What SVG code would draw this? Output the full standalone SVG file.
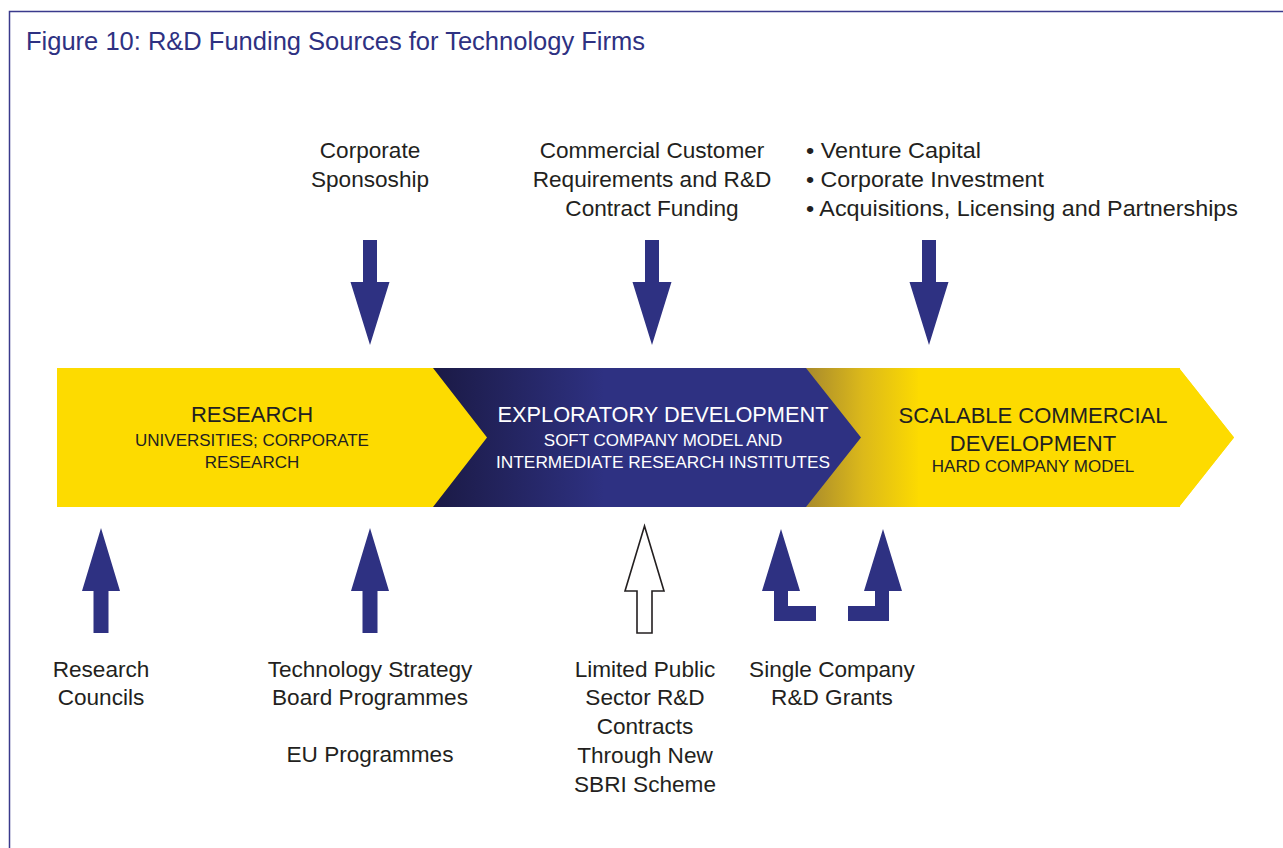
<svg xmlns="http://www.w3.org/2000/svg" width="1283" height="848" viewBox="0 0 1283 848">
<style>
.t{font-family:"Liberation Sans",Arial,sans-serif;font-size:22.6px;fill:#231f20;text-anchor:middle}
.tl{text-anchor:start}
.title{font-family:"Liberation Sans",Arial,sans-serif;font-size:25px;fill:#2e3182}
.bh{font-family:"Liberation Sans",Arial,sans-serif;font-size:22px;fill:#231f20;text-anchor:middle}
.bs{font-family:"Liberation Sans",Arial,sans-serif;font-size:17px;fill:#231f20;text-anchor:middle}
.w{fill:#ffffff}
.arr{fill:#2e3182}
.hollow{fill:#ffffff;stroke:#231f20;stroke-width:1.6}
</style>
<defs>
<linearGradient id="gBlue" x1="433" y1="0" x2="861" y2="0" gradientUnits="userSpaceOnUse">
<stop offset="0" stop-color="#1b1a45"/>
<stop offset="0.4" stop-color="#2e3182"/>
<stop offset="1" stop-color="#2e3182"/>
</linearGradient>
<linearGradient id="gGold" x1="806" y1="0" x2="920" y2="0" gradientUnits="userSpaceOnUse">
<stop offset="0" stop-color="#a88a2c"/>
<stop offset="0.5" stop-color="#dcb91a"/>
<stop offset="1" stop-color="#fddb00"/>
</linearGradient>
<path id="down" d="M-7,0 H7 V42 H19.5 L0,105 L-19.5,42 H-7 Z"/>
<path id="up" d="M0,0 L19,63 H7.5 V105 H-7.5 V63 H-19 Z"/>
</defs>
<rect width="1283" height="848" fill="#ffffff"/>
<path d="M9.5,848 V11.5 H1283" fill="none" stroke="#3a3a8c" stroke-width="1.5"/>
<text class="title" x="26" y="50" textLength="619" lengthAdjust="spacingAndGlyphs">Figure 10: R&amp;D Funding Sources for Technology Firms</text>

<g id="band">
<polygon points="57,368 1179,368 1234,437.5 1179,507 57,507" fill="#fddb00"/>
<polygon points="806,368 1179,368 1234,437.5 1179,507 806,507" fill="url(#gGold)"/>
<rect x="918" y="368" width="262" height="139" fill="#fddb00"/>
<polygon points="433,368 806,368 861,437.5 806,507 433,507 487,437.5" fill="url(#gBlue)"/>
</g>

<g id="node-research">
<text class="bh" x="252" y="422">RESEARCH</text>
<text class="bs" x="252" y="446">UNIVERSITIES; CORPORATE</text>
<text class="bs" x="252" y="468">RESEARCH</text>
</g>
<g id="node-exploratory">
<text class="bh w" x="663" y="422" textLength="331" lengthAdjust="spacingAndGlyphs">EXPLORATORY DEVELOPMENT</text>
<text class="bs w" x="663" y="446">SOFT COMPANY MODEL AND</text>
<text class="bs w" x="663" y="468" textLength="334" lengthAdjust="spacingAndGlyphs">INTERMEDIATE RESEARCH INSTITUTES</text>
</g>
<g id="node-scalable">
<text class="bh" x="1033" y="423">SCALABLE COMMERCIAL</text>
<text class="bh" x="1033" y="451">DEVELOPMENT</text>
<text class="bs" x="1033" y="472">HARD COMPANY MODEL</text>
</g>

<g id="src-corporate">
<text class="t" x="370" y="158">Corporate</text>
<text class="t" x="370" y="187">Sponsoship</text>
</g>
<g id="src-commercial">
<text class="t" x="652" y="158">Commercial Customer</text>
<text class="t" x="652" y="187">Requirements and R&amp;D</text>
<text class="t" x="652" y="216">Contract Funding</text>
</g>
<g id="src-venture">
<text class="t tl" x="806" y="158" textLength="175" lengthAdjust="spacingAndGlyphs">• Venture Capital</text>
<text class="t tl" x="806" y="187" textLength="238" lengthAdjust="spacingAndGlyphs">• Corporate Investment</text>
<text class="t tl" x="806" y="216" textLength="432" lengthAdjust="spacingAndGlyphs">• Acquisitions, Licensing and Partnerships</text>
</g>
<g id="src-councils">
<text class="t" x="101" y="677">Research</text>
<text class="t" x="101" y="705">Councils</text>
</g>
<g id="src-tsb">
<text class="t" x="370" y="677">Technology Strategy</text>
<text class="t" x="370" y="705">Board Programmes</text>
<text class="t" x="370" y="762">EU Programmes</text>
</g>
<g id="src-sbri">
<text class="t" x="645" y="677">Limited Public</text>
<text class="t" x="645" y="705">Sector R&amp;D</text>
<text class="t" x="645" y="734">Contracts</text>
<text class="t" x="645" y="763">Through New</text>
<text class="t" x="645" y="792">SBRI Scheme</text>
</g>
<g id="src-grants">
<text class="t" x="832" y="677">Single Company</text>
<text class="t" x="832" y="705">R&amp;D Grants</text>
</g>

<g id="connectors">
<use href="#down" class="arr" x="370" y="240"/>
<use href="#down" class="arr" x="652" y="240"/>
<use href="#down" class="arr" x="929" y="240"/>
<use href="#up" class="arr" x="101" y="528"/>
<use href="#up" class="arr" x="370" y="528"/>
<path class="hollow" d="M644.5,526 L664,591 H652 V633 H637 V591 H625 Z"/>
<path class="arr" d="M781,529 L800,591 H788 V606 H816 V621 H774 V591 H762 Z"/>
<path class="arr" d="M883,529 L902,591 H889 V621 H848 V606 H875 V591 H864 Z"/>
</g>
</svg>
